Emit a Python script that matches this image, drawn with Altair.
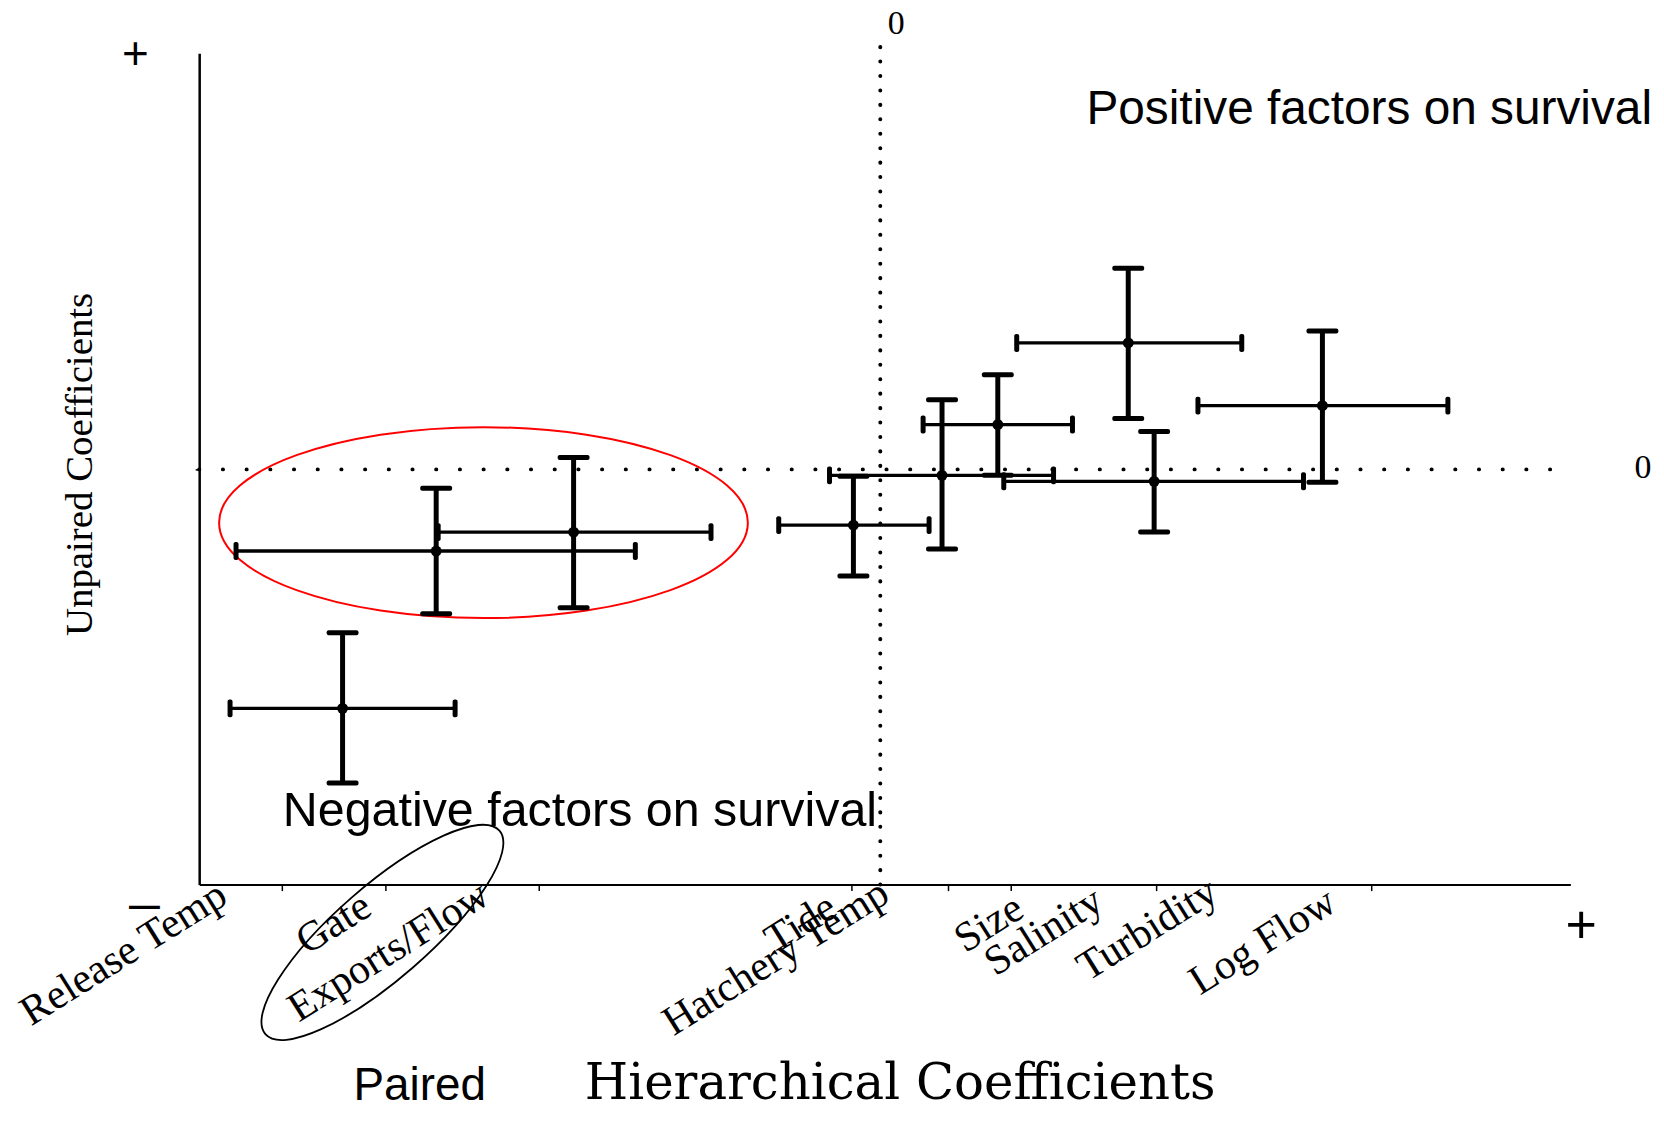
import altair as alt
import pandas as pd

# ---------------- values (coefficient units) ----------------
# hierarchical (paired) coefficient: estimate and interval
est_x = [-5.40, -4.46, -3.08, -0.27, 0.62, 1.18, 2.49, 2.75, 4.44]
lo_x = [-6.53, -6.47, -4.44, -1.02, -0.51, 0.43, 1.37, 1.24, 3.19]
hi_x = [-4.27, -2.46, -1.70, 0.49, 1.74, 1.93, 3.63, 4.25, 5.70]
# unpaired coefficient: estimate and interval
est_y = [-2.40, -0.82, -0.63, -0.56, -0.06, 0.45, 1.27, -0.12, 0.64]
lo_y = [-3.15, -1.45, -1.39, -1.07, -0.80, -0.06, 0.51, -0.63, -0.13]
hi_y = [-1.64, -0.19, 0.12, -0.07, 0.70, 0.95, 2.02, 0.38, 1.39]

x_ticks = [-6.01, -4.97, -3.43, -0.29, 0.68, 1.31, 2.77, 4.93]

factor_labels = ["Release Temp", "Gate", "Exports/Flow", "Hatchery Temp", "Tide",
                 "Size", "Salinity", "Turbidity", "Log Flow"]
factor_label_x = [-7.60, -5.49, -4.94, -1.05, -0.80, 1.09, 1.64, 2.68, 3.84]
factor_label_y = [-4.86, -4.56, -4.84, -4.90, -4.56, -4.56, -4.64, -4.62, -4.74]

X_DOMAIN = [-6.84, 6.93]
Y_DOMAIN = [-4.17, 4.18]

# ---------------- scales / axes ----------------
xs = alt.Scale(domain=X_DOMAIN, nice=False, zero=False)
ys = alt.Scale(domain=Y_DOMAIN, nice=False, zero=False)
xaxis = alt.Axis(values=x_ticks, labels=False, title=None, grid=False,
                 domainColor="black", domainWidth=2, tickColor="black",
                 tickWidth=1.5, tickSize=6)
yaxis = alt.Axis(values=[0], labels=False, title=None, grid=False,
                 domainColor="black", domainWidth=2.5, tickColor="black",
                 tickWidth=1.5, tickSize=4)


def X(f):
    return alt.X(f, type="quantitative", scale=xs, axis=xaxis)


def Y(f):
    return alt.Y(f, type="quantitative", scale=ys, axis=yaxis)


est = pd.DataFrame({"x": est_x, "xl": lo_x, "xh": hi_x,
                    "y": est_y, "yl": lo_y, "yh": hi_y})

# ---------------- reference (zero) lines ----------------
ref_h = pd.DataFrame({"x": [X_DOMAIN[0]], "x2": [X_DOMAIN[1]], "y": [0.0]})
ref_v = pd.DataFrame({"x": [0.0], "y": [Y_DOMAIN[0]], "y2": [4.27]})

dot_h = alt.Chart(ref_h).mark_rule(color="black", strokeWidth=4, strokeCap="round",
                                   strokeDash=[0.1, 23.7]).encode(
    x=X("x"), x2="x2", y=Y("y"))
dot_v = alt.Chart(ref_v).mark_rule(color="black", strokeWidth=4, strokeCap="round",
                                   strokeDash=[0.1, 14.4]).encode(
    x=X("x"), y=Y("y"), y2="y2")

# ---------------- error bars ----------------
base = alt.Chart(est)
hbar = base.mark_rule(color="black", strokeWidth=3.4).encode(x=X("xl"), x2="xh", y=Y("y"))
vbar = base.mark_rule(color="black", strokeWidth=5).encode(x=X("x"), y=Y("yl"), y2="yh")
cap_l = base.mark_tick(color="black", orient="vertical", size=18, thickness=5, opacity=1,
                       cornerRadius=2).encode(x=X("xl"), y=Y("y"))
cap_r = base.mark_tick(color="black", orient="vertical", size=18, thickness=5, opacity=1,
                       cornerRadius=2).encode(x=X("xh"), y=Y("y"))
cap_b = base.mark_tick(color="black", orient="horizontal", size=32, thickness=5, opacity=1,
                       cornerRadius=2).encode(x=X("x"), y=Y("yl"))
cap_t = base.mark_tick(color="black", orient="horizontal", size=32, thickness=5, opacity=1,
                       cornerRadius=2).encode(x=X("x"), y=Y("yh"))
pts = base.mark_circle(color="black", size=120, opacity=1).encode(x=X("x"), y=Y("y"))

# ---------------- ellipses (annotation outlines) ----------------
def ellipse_path(r):
    k = 0.5523
    return (f"M -1 0 C -1 {-k*r:.4f} {-k:.4f} {-r:.4f} 0 {-r:.4f} "
            f"C {k:.4f} {-r:.4f} 1 {-k*r:.4f} 1 0 "
            f"C 1 {k*r:.4f} {k:.4f} {r:.4f} 0 {r:.4f} "
            f"C {-k:.4f} {r:.4f} -1 {k*r:.4f} -1 0 Z")


red_df = pd.DataFrame({"x": [-3.985], "y": [-0.535]})
blk_df = pd.DataFrame({"x": [-5.00], "y": [-4.65]})
red_ell = alt.Chart(red_df).mark_point(shape=ellipse_path(0.361), filled=False, stroke="#ff0000",
                                       strokeWidth=2, opacity=1, size=281961).encode(
    x=X("x"), y=Y("y"))
blk_ell = alt.Chart(blk_df).mark_point(shape=ellipse_path(0.30), filled=False, stroke="black",
                                       strokeWidth=1.8, opacity=1, size=97000, angle=319).encode(
    x=X("x"), y=Y("y"))

# ---------------- text ----------------
lab_df = pd.DataFrame({"t": factor_labels, "x": factor_label_x, "y": factor_label_y})
labels = alt.Chart(lab_df).mark_text(font="Liberation Serif", fontSize=42, angle=328,
                                     align="center", baseline="middle", color="black").encode(
    x=X("x"), y=Y("y"), text="t:N")


def txt(df, **kw):
    return alt.Chart(df).mark_text(color="black", **kw).encode(x=X("x"), y=Y("y"), text="t:N")


pos_t = txt(pd.DataFrame({"t": ["Positive factors on survival"], "x": [2.07], "y": [3.47]}),
            font="Liberation Sans", fontSize=48, align="left", baseline="alphabetic")
neg_t = txt(pd.DataFrame({"t": ["Negative factors on survival"], "x": [-6.00], "y": [-3.58]}),
            font="Liberation Sans", fontSize=48.6, align="left", baseline="alphabetic")
paired_t = txt(pd.DataFrame({"t": ["Paired"], "x": [-5.29], "y": [-6.33]}),
               font="Liberation Sans", fontSize=46, align="left", baseline="alphabetic")
xtitle = txt(pd.DataFrame({"t": ["Hierarchical Coefficients"], "x": [0.20], "y": [-6.32]}),
             font="DejaVu Serif", fontSize=50, align="center", baseline="alphabetic")
ytitle = txt(pd.DataFrame({"t": ["Unpaired Coefficients"], "x": [-8.04], "y": [0.05]}),
             font="Liberation Serif", fontSize=39, align="center", baseline="middle", angle=270)
zeros = txt(pd.DataFrame({"t": ["0", "0"], "x": [0.16, 7.66], "y": [4.37, -0.09]}),
            font="Liberation Serif", fontSize=34, align="center", baseline="alphabetic")
plus_tl = txt(pd.DataFrame({"t": ["+"], "x": [-7.48], "y": [4.16]}),
              font="Liberation Sans", fontSize=46, align="center", baseline="middle")
plus_br = txt(pd.DataFrame({"t": ["+"], "x": [7.04], "y": [-4.60]}),
              font="Liberation Sans", fontSize=54, align="center", baseline="middle")
minus_bl = txt(pd.DataFrame({"t": ["\u2014"], "x": [-7.39], "y": [-4.40]}),
               font="Liberation Sans", fontSize=31, align="center", baseline="middle",
               fontWeight="bold")

chart = alt.layer(
    dot_h, dot_v, red_ell, blk_ell,
    hbar, vbar, cap_l, cap_r, cap_b, cap_t, pts,
    labels, pos_t, neg_t, paired_t, xtitle, ytitle, zeros, plus_tl, plus_br, minus_bl,
).properties(
    width=1377, height=835,
    padding={"left": 192, "top": 43, "right": 86, "bottom": 224},
    autosize=alt.AutoSizeParams(type="none"),
    background="white",
).configure_view(stroke=None)

chart.save("out.html", embed_options={"renderer": "svg", "actions": False})
